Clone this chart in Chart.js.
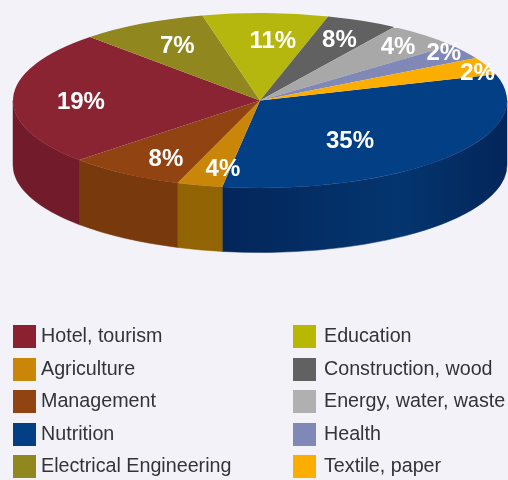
<!DOCTYPE html>
<html>
<head>
<meta charset="utf-8">
<script src="https://cdn.jsdelivr.net/npm/chart.js@4"></script>
<style>
html,body{margin:0;padding:0;background:#f3f2f9;}
canvas{display:block;}
</style>
</head>
<body>
<canvas id="c" width="508" height="480"></canvas>
<script>
// Categories clockwise from the right-hand edge of the pie.
const categories = ['Nutrition','Agriculture','Management','Hotel, tourism','Electrical Engineering','Education','Construction, wood','Energy, water, waste','Health','Textile, paper'];
// Percentages printed on the slices.
const printedPercent = [35,4,8,19,7,11,8,4,2,2];
// Slice sizes as actually drawn in the reference, in degrees. The source graphic's
// slices are not proportional to its printed percentages, so both are kept.
const drawnDegrees = [116.2,10.7,27.6,89.4,30,29.5,16.9,17.9,10.1,11.7];
const topColors = ['#033f85','#c98609','#924312','#8a2433','#90871e','#b5b70f','#616161','#a8a8a8','#7f88b6','#fcae00'];
const wallColors = ['#03265a','#926404','#78390d','#721b2a','#6b6416','#878a0b','#484848','#7e7e7e','#5f6688','#bd8200'];
const legendSwatches = ['#8a2030','#c98609','#924312','#033f85','#90871e','#b9b800','#616161','#b0b0b0','#7f88b6','#fcae00'];
const legendOrder = ['Hotel, tourism','Agriculture','Management','Nutrition','Electrical Engineering','Education','Construction, wood','Energy, water, waste','Health','Textile, paper'];
// Label placement per slice: fraction of the radius, and degrees away from the slice middle.
const labelRadius = [0.575,0.79,0.755,0.725,0.72,0.70,0.777,0.838,0.926,0.939];
const labelShift = [10,-3.2,-3,-2,0.8,3,0,0,-2.4,3];

const PIE = {cx:260, cy:100.5, rx:247, ry:87.5, depth:64.5};
const toRad = d => d*Math.PI/180;

const pie3d = {
  id:'pie3d',
  beforeDatasetsDraw(chart){
    const ctx = chart.ctx, arcs = chart.getDatasetMeta(0).data;
    const {cx,cy,rx,ry,depth} = PIE;
    ctx.save();
    arcs.forEach((arc,i)=>{
      const a0 = Math.max(arc.startAngle,0), a1 = Math.min(arc.endAngle,Math.PI);
      if(a1<=a0) return;
      let fill = wallColors[i];
      if(i===0){
        const g = ctx.createLinearGradient(cx-rx,0,cx+rx,0);
        g.addColorStop(0.42,'#03265a');
        g.addColorStop(0.78,'#04356f');
        g.addColorStop(1,'#03265a');
        fill = g;
      }
      ctx.beginPath();
      ctx.ellipse(cx,cy,rx,ry,0,a0,a1);
      ctx.ellipse(cx,cy+depth,rx,ry,0,a1,a0,true);
      ctx.closePath();
      ctx.fillStyle = fill;
      ctx.fill();
      ctx.strokeStyle = fill;
      ctx.lineWidth = 0.5;
      ctx.stroke();
    });
    const a = arcs[0];
    ctx.restore();
    // flatten the library's own circular arcs onto the ellipse
    ctx.save();
    ctx.translate(cx,cy);
    ctx.scale(rx/a.outerRadius, ry/a.outerRadius);
    ctx.translate(-a.x,-a.y);
  },
  afterDatasetsDraw(chart){
    const ctx = chart.ctx, arcs = chart.getDatasetMeta(0).data;
    ctx.restore();
    const {cx,cy,rx,ry} = PIE;
    ctx.save();
    ctx.fillStyle = '#ffffff';
    ctx.font = 'bold 24px "Liberation Sans", Arial, sans-serif';
    ctx.textAlign = 'center';
    ctx.textBaseline = 'middle';
    arcs.forEach((arc,i)=>{
      const ang = (arc.startAngle+arc.endAngle)/2 + toRad(labelShift[i]);
      const x = cx + rx*labelRadius[i]*Math.cos(ang);
      const y = cy + ry*labelRadius[i]*Math.sin(ang) + 1.5;
      ctx.fillText(printedPercent[i]+'%', x, y);
    });
    ctx.restore();
  },
  afterDraw(chart){
    const ctx = chart.ctx;
    const columns = [{box:13,text:41},{box:293,text:324}];
    const rowTops = [325,358,390,423,455];
    ctx.save();
    ctx.font = '19.7px "Liberation Sans", Arial, sans-serif';
    ctx.textAlign = 'left';
    ctx.textBaseline = 'alphabetic';
    legendOrder.forEach((name,i)=>{
      const col = columns[i<5?0:1], top = rowTops[i%5];
      ctx.fillStyle = legendSwatches[i];
      ctx.fillRect(col.box,top,23,23);
      ctx.fillStyle = '#333338';
      ctx.fillText(name,col.text,top+17);
    });
    ctx.restore();
  }
};

new Chart(document.getElementById('c'),{
  type:'pie',
  data:{
    labels:categories,
    datasets:[{data:drawnDegrees, backgroundColor:topColors, borderWidth:0, hoverOffset:0}]
  },
  options:{
    responsive:false,
    animation:false,
    rotation:72.6,
    layout:{padding:0},
    plugins:{legend:{display:false},tooltip:{enabled:false}}
  },
  plugins:[pie3d]
});
</script>
</body>
</html>
